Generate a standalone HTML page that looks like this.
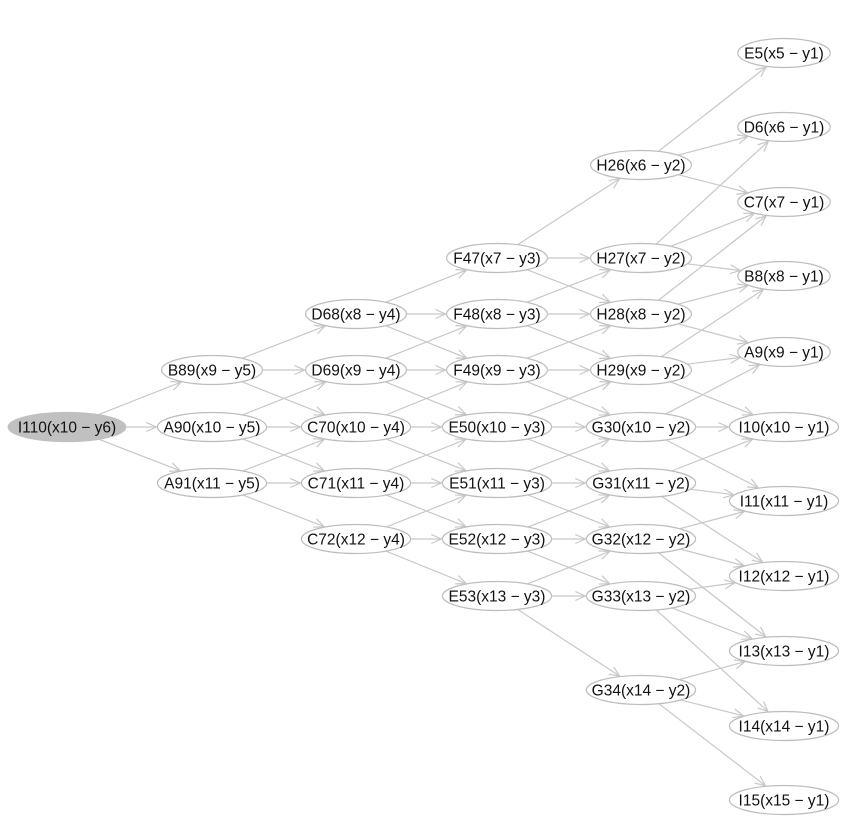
<!DOCTYPE html>
<html><head><meta charset="utf-8"><style>
html,body{margin:0;padding:0;background:#fff;width:849px;height:834px;overflow:hidden}
text{font-family:"Liberation Sans",Arial,sans-serif;font-size:15.5px;fill:#111}
</style></head><body>
<svg id="s" width="849" height="834" xmlns="http://www.w3.org/2000/svg"></svg>
<script>
const X=[67,212,356,497,641,784];
const nodes={};
function add(id,c,y,fill){nodes[id]={x:X[c],y:y,rx:id.length*4.2,ry:14.5,fill:fill};}
add("I110(x10 − y6)",0,427,true);
add("B89(x9 − y5)",1,370);add("A90(x10 − y5)",1,427);add("A91(x11 − y5)",1,483);
add("D68(x8 − y4)",2,314);add("D69(x9 − y4)",2,370);add("C70(x10 − y4)",2,427);add("C71(x11 − y4)",2,483);add("C72(x12 − y4)",2,539);
add("F47(x7 − y3)",3,258);add("F48(x8 − y3)",3,314);add("F49(x9 − y3)",3,370);add("E50(x10 − y3)",3,427);add("E51(x11 − y3)",3,483);add("E52(x12 − y3)",3,539);add("E53(x13 − y3)",3,596);
add("H26(x6 − y2)",4,165);add("H27(x7 − y2)",4,258);add("H28(x8 − y2)",4,314);add("H29(x9 − y2)",4,370);add("G30(x10 − y2)",4,427);add("G31(x11 − y2)",4,483);add("G32(x12 − y2)",4,539);add("G33(x13 − y2)",4,596);add("G34(x14 − y2)",4,690);
add("E5(x5 − y1)",5,53);add("D6(x6 − y1)",5,127);add("C7(x7 − y1)",5,202);add("B8(x8 − y1)",5,276);add("A9(x9 − y1)",5,352);add("I10(x10 − y1)",5,427);add("I11(x11 − y1)",5,501);add("I12(x12 − y1)",5,576);add("I13(x13 − y1)",5,651);add("I14(x14 − y1)",5,726);add("I15(x15 − y1)",5,800);
const ids=Object.keys(nodes);
function find(x,y){return ids.find(k=>k.indexOf("(x"+x+" ")>0&&k.indexOf("y"+y+")")>0);}
const edges=[];
ids.forEach(k=>{const m=k.match(/\(x(\d+) − y(\d+)\)/);const x=+m[1],y=+m[2];if(y==1)return;
[x-1,x,x+1].forEach(t=>{const d=find(t,y-1);if(d)edges.push([k,d]);});});
let h='';
function bd(n,dx,dy){return 1/Math.sqrt((dx*dx)/(n.rx*n.rx)+(dy*dy)/(n.ry*n.ry));}
edges.forEach(([a,b])=>{const A=nodes[a],B=nodes[b];const dx=B.x-A.x,dy=B.y-A.y,L=Math.hypot(dx,dy);
const ux=dx/L,uy=dy/L;const ta=bd(A,ux,uy),tb=bd(B,ux,uy);
const x1=A.x+ux*ta,y1=A.y+uy*ta,x2=B.x-ux*(tb+1),y2=B.y-uy*(tb+1);
h+=`<line x1="${x1}" y1="${y1}" x2="${x2}" y2="${y2}" stroke="#c8c8c8" stroke-width="1.2"/>`;
const ang=Math.atan2(uy,ux),al=11,aw=0.42;
const p1=[x2-al*Math.cos(ang-aw),y2-al*Math.sin(ang-aw)],p2=[x2-al*Math.cos(ang+aw),y2-al*Math.sin(ang+aw)];
h+=`<polyline points="${p1} ${x2},${y2} ${p2}" fill="none" stroke="#c8c8c8" stroke-width="1.2"/>`;});
ids.forEach(k=>{const n=nodes[k];
h+=`<ellipse cx="${n.x}" cy="${n.y}" rx="${n.rx}" ry="${n.ry}" fill="${n.fill?'#c0c0c0':'#fff'}" stroke="${n.fill?'#c0c0c0':'#bdbdbd'}" stroke-width="1.2"/>`;
h+=`<text x="${n.x}" y="${n.y+5.5}" text-anchor="middle">${k}</text>`;});
document.getElementById('s').innerHTML=h;
</script>
</body></html>
